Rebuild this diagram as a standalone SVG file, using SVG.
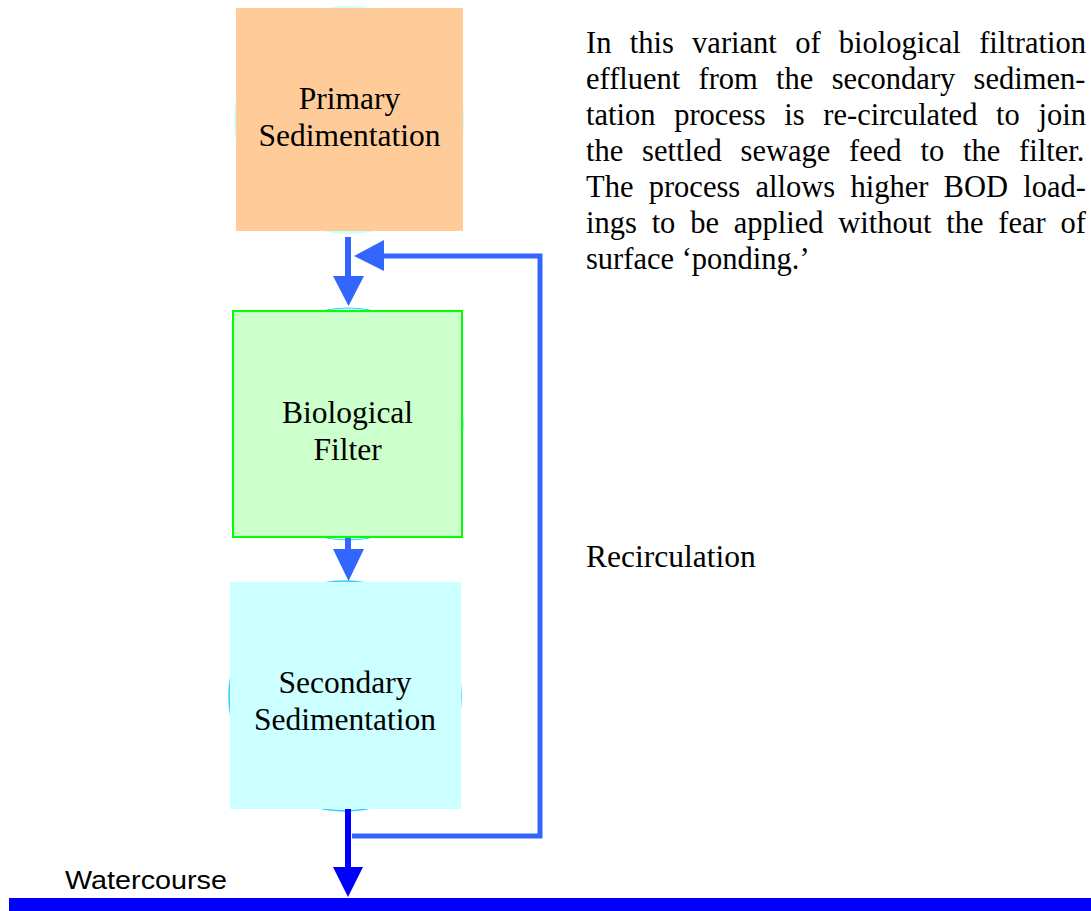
<svg xmlns="http://www.w3.org/2000/svg" width="1091" height="911" viewBox="0 0 1091 911">
<style>
.lbl{font-family:"Liberation Serif","Times New Roman",serif;font-size:31.5px;fill:#000;text-anchor:middle}
.para{font-family:"Liberation Serif","Times New Roman",serif;font-size:30.5px;fill:#000;font-variant-ligatures:none}
.halo{fill:#CCFFFF}
.flow{stroke:#3366FF;stroke-width:6;fill:none}
.recirc{stroke:#3366FF;stroke-width:5;fill:none}
.head{fill:#3366FF}
.out{stroke:#0000FF;stroke-width:6;fill:none}
.outhead{fill:#0000FF}
</style>
<rect width="1091" height="911" fill="#FFFFFF"/>
<g id="primary">
<ellipse class="halo" cx="349" cy="120" rx="115" ry="114"/>
<rect x="236" y="8" width="227" height="223" fill="#FFCC99"/>
<text class="lbl" x="349.5" y="109">Primary</text>
<text class="lbl" x="349.5" y="146">Sedimentation</text>
</g>
<g id="filter">
<ellipse class="halo" cx="348" cy="424" rx="115" ry="116" stroke="#33CCFF" stroke-width="1"/>
<rect x="233" y="311" width="229" height="226" fill="#CCFFCC" stroke="#00FF00" stroke-width="2"/>
<text class="lbl" x="347.5" y="423">Biological</text>
<text class="lbl" x="347.5" y="460">Filter</text>
</g>
<g id="secondary">
<ellipse class="halo" cx="345" cy="696" rx="116" ry="115" stroke="#33CCFF" stroke-width="1.5"/>
<rect x="230" y="582" width="231" height="227" fill="#CCFFFF"/>
<text class="lbl" x="345" y="693">Secondary</text>
<text class="lbl" x="345" y="730">Sedimentation</text>
</g>
<g id="watercourse">
<rect x="9" y="898" width="1082" height="13" fill="#0000FF"/>
<text x="65" y="889" font-family="Liberation Sans, Arial, sans-serif" font-size="25" textLength="162" lengthAdjust="spacingAndGlyphs">Watercourse</text>
</g>
<g id="connectors">
<line class="flow" x1="348" y1="237" x2="348" y2="278"/>
<polygon class="head" points="333,276 364,276 348.5,306"/>
<line class="flow" x1="348" y1="538" x2="348" y2="551"/>
<polygon class="head" points="333,549 364,549 348.5,581"/>
<polyline class="recirc" points="352,836 540,836 540,256 382,256"/>
<polygon class="head" points="384,240 384,271 354,256"/>
<line class="out" x1="348" y1="809" x2="348" y2="869"/>
<polygon class="outhead" points="333,867 363,867 348,897"/>
</g>
<g id="recirculation-label">
<text x="586" y="567" font-family="Liberation Serif, Times New Roman, serif" font-size="31.5">Recirculation</text>
</g>
<g id="description">
<text class="para" x="586" y="53" word-spacing="10.7">In this variant of biological filtration</text>
<text class="para" x="586" y="89" word-spacing="10.65">effluent from the secondary sedimen-</text>
<text class="para" x="586" y="125" word-spacing="11.06">tation process is re-circulated to join</text>
<text class="para" x="586" y="161" word-spacing="11.2">the settled sewage feed to the filter.</text>
<text class="para" x="586" y="197" word-spacing="7.67">The process allows higher BOD load-</text>
<text class="para" x="586" y="233" word-spacing="7.17">ings to be applied without the fear of</text>
<text class="para" x="586" y="269">surface ‘ponding.’</text>
</g>
</svg>
